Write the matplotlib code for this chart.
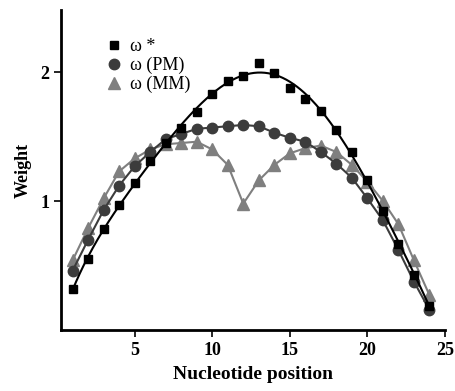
import numpy as np
import matplotlib.pyplot as plt
from matplotlib.lines import Line2D

plt.rcParams["font.family"] = ["Liberation Serif", "DejaVu Serif"]

positions = list(range(1, 25))
w_star = [0.32, 0.55, 0.78, 0.97, 1.14, 1.31, 1.45, 1.57, 1.69, 1.83, 1.93, 1.97,
          2.07, 1.99, 1.88, 1.79, 1.70, 1.55, 1.38, 1.16, 0.92, 0.67, 0.43, 0.19]
w_pm = [0.46, 0.70, 0.93, 1.12, 1.27, 1.38, 1.48, 1.52, 1.56, 1.57, 1.58, 1.59,
        1.58, 1.53, 1.49, 1.46, 1.38, 1.29, 1.18, 1.02, 0.85, 0.62, 0.375, 0.155]
w_mm = [0.54, 0.79, 1.02, 1.23, 1.33, 1.40, 1.44, 1.45, 1.46, 1.40, 1.28, 0.98,
        1.16, 1.28, 1.37, 1.41, 1.43, 1.38, 1.28, 1.15, 1.00, 0.82, 0.54, 0.27]
legend_labels = ["\u03c9 *", "\u03c9 (PM)", "\u03c9 (MM)"]

c_star, c_pm, c_mm = "black", "#3c3c3c", "#7f7f7f"

fig = plt.figure(figsize=(4.55, 3.91), dpi=100)
ax = fig.add_axes([0.134, 0.156, 0.844, 0.818])

x = np.array(positions)

# MM: straight segments
ax.plot(x, w_mm, color=c_mm, lw=1.5, marker="^", ms=8, mec=c_mm, mfc=c_mm, zorder=2)
# PM
ax.plot(x, w_pm, color=c_pm, lw=1.5, marker="o", ms=7.5, mec=c_pm, mfc=c_pm, zorder=3)
# star: fitted smooth curve
coef = np.polyfit(x, w_star, 6)
xf = np.linspace(1, 24, 300)
ax.plot(xf, np.polyval(coef, xf), color=c_star, lw=1.5, zorder=4)
ax.plot(x, w_star, ls="none", marker="s", ms=6, color=c_star, zorder=5)

ax.set_xlim(0.25, 25)
ax.set_ylim(0, 2.48)
ax.set_xticks([5, 10, 15, 20, 25])
ax.set_yticks([1, 2])
ax.spines["top"].set_visible(False)
ax.spines["right"].set_visible(False)
for s in ("left", "bottom"):
    ax.spines[s].set_linewidth(2)
ax.tick_params(direction="out", width=1.2, length=5, labelsize=13)
for lab in ax.get_xticklabels() + ax.get_yticklabels():
    lab.set_fontweight("bold")

ax.set_xlabel("Nucleotide position", fontsize=14, fontweight="bold", labelpad=5)
ax.set_ylabel("Weight", fontsize=13, fontweight="bold", labelpad=6)

handles = [
    Line2D([], [], ls="none", marker="s", ms=6, color=c_star),
    Line2D([], [], ls="none", marker="o", ms=7.5, color=c_pm),
    Line2D([], [], ls="none", marker="^", ms=8, color=c_mm),
]
ax.legend(handles, legend_labels, loc="upper left", bbox_to_anchor=(0.1, 0.935),
          frameon=False, fontsize=13, handlelength=0.8, handletextpad=0.5,
          labelspacing=0.1, borderaxespad=0)

fig.savefig("out.png", dpi=100)
